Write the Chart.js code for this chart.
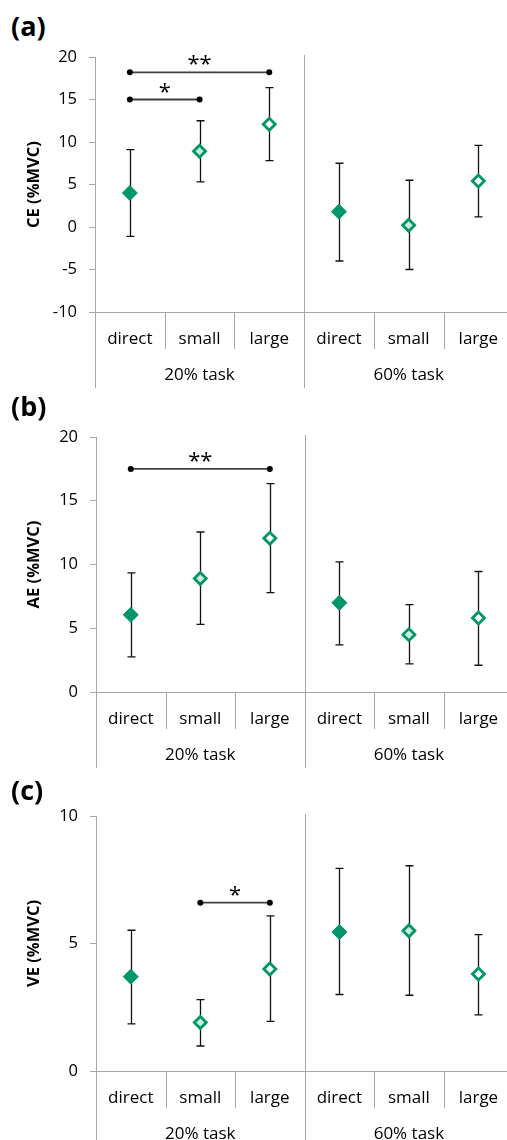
<!DOCTYPE html>
<html>
<head>
<meta charset="utf-8">
<script src="https://cdn.jsdelivr.net/npm/chart.js@4.4.1/dist/chart.umd.min.js"></script>
<style>
  html, body { margin: 0; padding: 0; background: #fff; overflow: hidden; width: 507px; height: 1140px; }
  canvas { position: absolute; left: 0; }
  .tag { position: absolute; left: 11px; font: bold 27px "Open Sans", sans-serif; color: #000; line-height: 1; }
</style>
</head>
<body>
<div class="tag" style="top:12px">(a)</div>
<canvas id="ce" width="522" height="392" style="top:0"></canvas>
<div class="tag" style="top:392px">(b)</div>
<canvas id="ae" width="522" height="380" style="top:392px"></canvas>
<div class="tag" style="top:776px">(c)</div>
<canvas id="ve" width="522" height="368" style="top:772px"></canvas>
<script>
// Feedback conditions within each task level
const categories = ['direct', 'small', 'large', 'direct', 'small', 'large'];
const taskGroups = ['20% task', '60% task'];

// Constant error (CE, %MVC): mean and error-bar limits
const ceMean = [4.0, 8.9, 12.1, 1.8, 0.2, 5.4];
const ceLow  = [-1.1, 5.3, 7.8, -4.0, -5.0, 1.2];
const ceHigh = [9.1, 12.5, 16.4, 7.5, 5.5, 9.6];

// Absolute error (AE, %MVC)
const aeMean = [6.05, 8.9, 12.05, 7.0, 4.5, 5.8];
const aeLow  = [2.75, 5.3, 7.8, 3.7, 2.2, 2.1];
const aeHigh = [9.35, 12.55, 16.35, 10.2, 6.85, 9.45];

// Variable error (VE, %MVC)
const veMean = [3.7, 1.9, 4.0, 5.45, 5.5, 3.8];
const veLow  = [1.85, 0.98, 1.95, 3.0, 2.97, 2.2];
const veHigh = [5.52, 2.8, 6.08, 7.95, 8.05, 5.35];

// Significant pairwise differences: [from index, to index, bar height, stars]
const ceSig = [[0, 2, 18.2, '**'], [0, 1, 15.0, '*']];
const aeSig = [[0, 2, 17.5, '**']];
const veSig = [[1, 2, 6.6, '*']];

const GREEN = '#00966a';
const LIGHT = '#c9eedb';
const AXIS = '#a6a6a6';
const FONT = '"Open Sans", sans-serif';

// Marker look per condition: direct = solid, small = light fill, large = hollow
const markerFill   = [GREEN, LIGHT, '#ffffff', GREEN, LIGHT, '#ffffff'];
const markerRadius = [7.5, 6, 6, 7.5, 6, 6];
const markerBorder = [1, 2.8, 2.8, 1, 2.8, 2.8];

// Vertical error bars with caps, drawn beneath the markers
const errorBars = {
  id: 'errorBars',
  beforeDatasetsDraw(chart) {
    const ds = chart.data.datasets[0];
    const y = chart.scales.y;
    const ctx = chart.ctx;
    ctx.save();
    ctx.strokeStyle = '#111';
    ctx.lineWidth = 1.3;
    chart.getDatasetMeta(0).data.forEach((pt, i) => {
      const x = Math.round(pt.x) + 0.5;
      const y1 = y.getPixelForValue(ds.errLow[i]);
      const y2 = y.getPixelForValue(ds.errHigh[i]);
      ctx.beginPath();
      ctx.moveTo(x, y1); ctx.lineTo(x, y2);
      ctx.moveTo(x - 4, y1); ctx.lineTo(x + 4, y1);
      ctx.moveTo(x - 4, y2); ctx.lineTo(x + 4, y2);
      ctx.stroke();
    });
    ctx.restore();
  }
};

// Two-level category axis: condition dividers and task-group labels
const groupAxis = {
  id: 'groupAxis',
  afterDraw(chart) {
    const xs = chart.scales.x;
    const area = chart.chartArea;
    const ctx = chart.ctx;
    ctx.save();
    ctx.strokeStyle = AXIS;
    ctx.lineWidth = 1;
    for (let i = 0; i <= categories.length; i++) {
      const x = Math.round(xs.getPixelForValue(i - 0.5)) + 0.5;
      const isGroupEdge = i % 3 === 0;
      ctx.beginPath();
      if (isGroupEdge && i > 0 && i < categories.length) {
        ctx.moveTo(x, area.top - 2);
      } else {
        ctx.moveTo(x, area.bottom);
      }
      ctx.lineTo(x, area.bottom + (isGroupEdge ? 76 : 37));
      ctx.stroke();
    }
    ctx.fillStyle = '#000';
    ctx.font = '17px ' + FONT;
    ctx.textAlign = 'center';
    ctx.textBaseline = 'middle';
    taskGroups.forEach((g, k) => {
      ctx.fillText(g, xs.getPixelForValue(k * 3 + 1), area.bottom + 63);
    });
    ctx.restore();
  }
};

// Significance brackets with end dots and star labels
function sigPlugin(sig) {
  return {
    id: 'sigBars',
    afterDatasetsDraw(chart) {
      const xs = chart.scales.x, ys = chart.scales.y, ctx = chart.ctx;
      ctx.save();
      sig.forEach(([a, b, v, stars]) => {
        const x1 = xs.getPixelForValue(a), x2 = xs.getPixelForValue(b);
        const yy = ys.getPixelForValue(v);
        ctx.strokeStyle = '#404040';
        ctx.lineWidth = 1.8;
        ctx.beginPath(); ctx.moveTo(x1, yy); ctx.lineTo(x2, yy); ctx.stroke();
        ctx.fillStyle = '#000';
        [x1, x2].forEach(x => { ctx.beginPath(); ctx.arc(x, yy, 3, 0, Math.PI * 2); ctx.fill(); });
        ctx.font = '22px ' + FONT;
        ctx.textAlign = 'center';
        ctx.textBaseline = 'alphabetic';
        ctx.fillText(stars, (x1 + x2) / 2, yy - 1);
      });
      ctx.restore();
    }
  };
}

function panel(id, mean, low, high, sig, yMin, yMax, step, title, cfg) {
  new Chart(document.getElementById(id), {
    type: 'line',
    data: {
      labels: categories,
      datasets: [{
        data: mean,
        errLow: low,
        errHigh: high,
        showLine: false,
        pointStyle: 'rectRot',
        pointRadius: markerRadius,
        pointHoverRadius: markerRadius,
        pointBackgroundColor: markerFill,
        pointBorderColor: GREEN,
        pointBorderWidth: markerBorder
      }]
    },
    options: {
      responsive: false,
      animation: false,
      events: [],
      layout: { padding: { left: 0, top: cfg.top, right: cfg.right, bottom: 0 } },
      plugins: { legend: { display: false }, tooltip: { enabled: false } },
      scales: {
        x: {
          type: 'category',
          offset: true,
          grid: { display: false },
          border: { display: true, color: AXIS, width: 1 },
          ticks: { color: '#000', font: { family: FONT, size: 17 }, padding: 9, maxRotation: 0, autoSkip: false },
          afterFit(s) { s.height = cfg.xh; }
        },
        y: {
          min: yMin, max: yMax,
          ticks: { stepSize: step, color: '#000', font: { family: FONT, size: 16.5 }, padding: 12 },
          grid: { drawOnChartArea: false, drawTicks: true, tickLength: 6, color: AXIS },
          border: { color: AXIS, width: 1 },
          title: {
            display: true, text: title, color: '#000',
            font: { family: FONT, size: 16.5, weight: 'bold' },
            padding: { top: 24, bottom: 0 }
          },
          afterFit(s) { s.width = cfg.left; }
        }
      }
    },
    plugins: [errorBars, groupAxis, sigPlugin(sig)]
  });
}

panel('ce', ceMean, ceLow, ceHigh, ceSig, -10, 20, 5, 'CE (%MVC)', { top: 57, right: 5, xh: 80, left: 95 });
panel('ae', aeMean, aeLow, aeHigh, aeSig, 0, 20, 5, 'AE (%MVC)', { top: 45, right: 2, xh: 80, left: 96 });
panel('ve', veMean, veLow, veHigh, veSig, 0, 10, 5, 'VE (%MVC)', { top: 44, right: 2, xh: 69, left: 96 });
</script>
</body>
</html>
